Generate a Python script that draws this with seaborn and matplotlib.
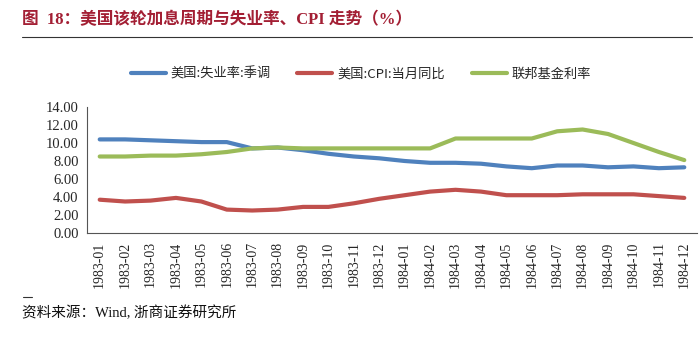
import matplotlib
matplotlib.use("Agg")
import matplotlib.pyplot as plt
import seaborn as sns
import pandas as pd
import numpy as np
from matplotlib.lines import Line2D

months = ["1983-01","1983-02","1983-03","1983-04","1983-05","1983-06","1983-07","1983-08",
          "1983-09","1983-10","1983-11","1983-12","1984-01","1984-02","1984-03","1984-04",
          "1984-05","1984-06","1984-07","1984-08","1984-09","1984-10","1984-11","1984-12"]
unemployment = [10.4, 10.4, 10.3, 10.2, 10.1, 10.1, 9.4, 9.5, 9.2, 8.8, 8.5, 8.3,
                8.0, 7.8, 7.8, 7.7, 7.4, 7.2, 7.5, 7.5, 7.3, 7.4, 7.2, 7.3]
cpi = [3.7, 3.5, 3.6, 3.9, 3.5, 2.6, 2.5, 2.6, 2.9, 2.9, 3.3, 3.8,
       4.2, 4.6, 4.8, 4.6, 4.2, 4.2, 4.2, 4.3, 4.3, 4.3, 4.1, 3.9]
fed_funds = [8.5, 8.5, 8.6, 8.6, 8.75, 9.0, 9.4, 9.5, 9.4, 9.4, 9.4, 9.4,
             9.4, 9.4, 10.5, 10.5, 10.5, 10.5, 11.3, 11.5, 11.0, 10.0, 9.0, 8.1]
series_names = ["美国:失业率:季调", "美国:CPI:当月同比", "联邦基金利率"]
colors = ["#4F81BD", "#C0504D", "#9BBB59"]
yticks = [0, 2, 4, 6, 8, 10, 12, 14]

sns.set_theme(style="white")
plt.rcParams['font.family'] = ['Liberation Serif', 'Noto Sans CJK SC', 'DejaVu Sans']

df = pd.DataFrame({
    "month": months * 3,
    "pos": list(range(len(months))) * 3,
    "value": unemployment + cpi + fed_funds,
    "series": [series_names[0]] * 24 + [series_names[1]] * 24 + [series_names[2]] * 24,
})

fig = plt.figure(figsize=(7.0, 3.37), dpi=100)
ax = fig.add_axes([87/700, 1-233/337, 610/700, 126/337])
sns.lineplot(data=df, x="pos", y="value", hue="series", palette=colors,
             hue_order=series_names, linewidth=3, ax=ax, legend=False)

ax.set_xlim(-0.5, 23.5)
ax.set_ylim(0, 14)
ax.set_yticks(yticks)
ax.set_yticklabels([f"{v:.2f}" for v in yticks], fontsize=10.5)
ax.set_xticks(range(24))
ax.set_xticklabels(months, rotation=90, fontsize=10)
ax.set_xticks(np.arange(-0.5, 24, 1), minor=True)
ax.tick_params(axis="x", which="major", length=0, pad=6)
ax.tick_params(axis="x", which="minor", length=4, width=0.8, color="#555555", direction="out")
ax.tick_params(axis="y", which="major", length=4, width=0.8, color="#555555", direction="out", pad=2)
ax.set_xlabel("")
ax.set_ylabel("")
for s in ["top", "right"]:
    ax.spines[s].set_visible(False)
for s in ["left", "bottom"]:
    ax.spines[s].set_color("#555555")
    ax.spines[s].set_linewidth(0.8)

handles = [Line2D([0], [0], color=c, lw=3) for c in colors]
fig.legend(handles, series_names, loc="center", bbox_to_anchor=(361/700, 1-74/337),
           ncol=3, frameon=False, handlelength=2.65, columnspacing=2.0,
           handletextpad=0.4, prop={'family': ['Noto Sans CJK SC'], 'size': 9.5})

fig.text(22/700, 1-20/337, "图  18：美国该轮加息周期与失业率、CPI 走势（%）", color="#A31F34",
         fontsize=12, fontweight="bold", va="center", ha="left",
         family=['Liberation Serif', 'Noto Sans CJK SC'])
fig.add_artist(Line2D([22/700, 692/700], [1-37/337, 1-37/337], color="#333333", lw=0.8))
fig.add_artist(Line2D([23/700, 32/700], [1-297/337, 1-297/337], color="#333333", lw=0.8))
fig.text(22/700, 1-313/337, "资料来源：Wind, 浙商证券研究所", fontsize=10.5, va="center", ha="left",
         color="#111111", family=['Liberation Serif', 'Noto Sans CJK SC'])

fig.savefig("out.png", dpi=100)
